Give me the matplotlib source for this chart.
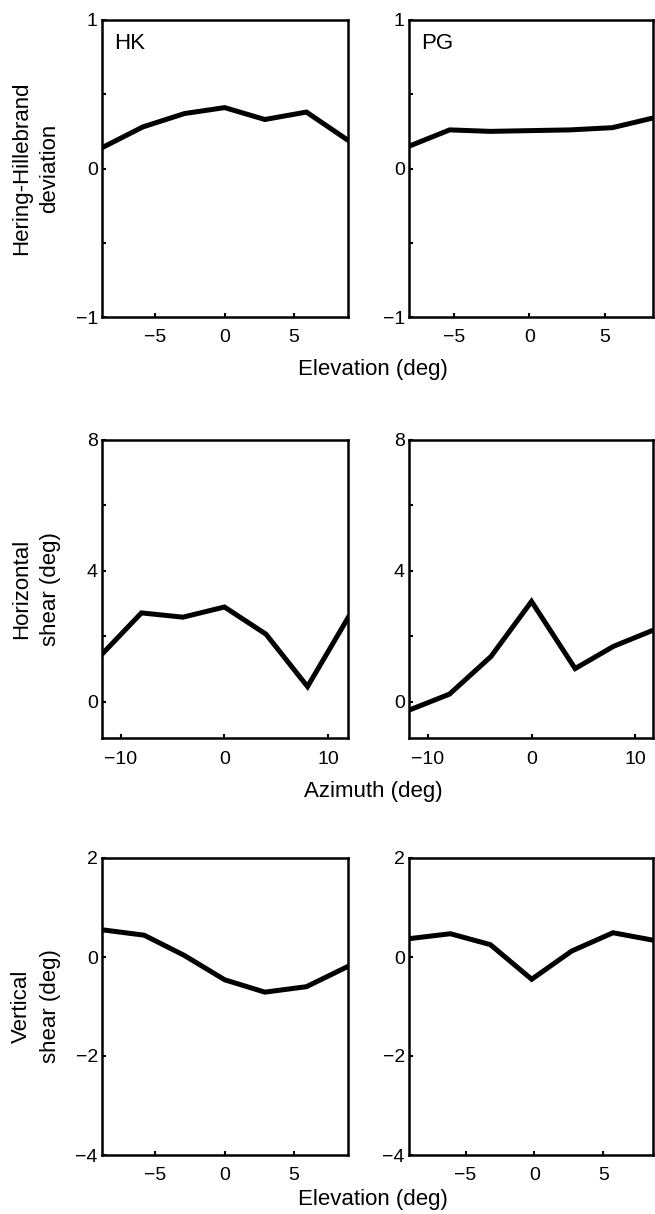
import matplotlib
matplotlib.use("Agg")
import matplotlib.pyplot as plt

plt.rcParams['font.family'] = ['Liberation Sans', 'DejaVu Sans']

# elevation / azimuth sample positions and values
hk_hh_x = [-8.85, -5.9, -2.9, 0, 2.9, 5.9, 8.9]
hk_hh = [0.14, 0.28, 0.37, 0.41, 0.33, 0.38, 0.19]
pg_hh_x = [-8.0, -5.3, -2.6, 0, 2.7, 5.5, 8.2]
pg_hh = [0.15, 0.26, 0.25, 0.255, 0.26, 0.275, 0.34]

hk_hs_x = [-11.8, -8, -4, 0, 4, 8, 11.9]
hk_hs = [1.46, 2.72, 2.59, 2.9, 2.07, 0.47, 2.57]
pg_hs_x = [-11.8, -7.9, -3.9, 0, 4.2, 7.9, 11.7]
pg_hs = [-0.25, 0.24, 1.39, 3.07, 1.02, 1.7, 2.19]

hk_vs_x = [-8.85, -5.8, -2.9, 0, 2.9, 5.9, 8.9]
hk_vs = [0.55, 0.44, 0.03, -0.46, -0.71, -0.6, -0.19]
pg_vs_x = [-9.1, -6.1, -3.2, -0.2, 2.7, 5.7, 8.6]
pg_vs = [0.37, 0.47, 0.25, -0.45, 0.12, 0.49, 0.34]

W, H = 655, 1214
fig = plt.figure(figsize=(W / 100, H / 100), dpi=100)

def px_axes(x0, x1, top, bottom):
    return fig.add_axes([x0 / W, 1 - bottom / H, (x1 - x0) / W, (bottom - top) / H])

def style(ax, xlim, ylim, xticks, yticks, yminor=None):
    ax.set_xlim(*xlim)
    ax.set_ylim(*ylim)
    ax.set_xticks(xticks)
    ax.set_yticks(yticks)
    if yminor:
        ax.set_yticks(yminor, minor=True)
    ax.tick_params(which='both', direction='in', length=3, width=1.5,
                   labelsize=14, top=False, right=False)
    ax.tick_params(axis='x', pad=9)
    ax.tick_params(axis='y', pad=3)
    for s in ax.spines.values():
        s.set_linewidth(1.8)

rows = [(20, 317), (440, 738), (858, 1155)]
cols = [(102, 348), (409, 653)]

# row 1: Hering-Hillebrand deviation
ax = px_axes(cols[0][0], cols[0][1], *rows[0])
ax.plot(hk_hh_x, hk_hh, color='black', lw=3.6, solid_joinstyle='miter')
style(ax, (-8.85, 8.9), (-1, 1), [-5, 0, 5], [-1, 0, 1], [-0.5, 0.5])
ax.text(0.05, 0.955, 'HK', transform=ax.transAxes, fontsize=16, va='top')

ax = px_axes(cols[1][0], cols[1][1], *rows[0])
ax.plot(pg_hh_x, pg_hh, color='black', lw=3.6, solid_joinstyle='miter')
style(ax, (-8.0, 8.2), (-1, 1), [-5, 0, 5], [-1, 0, 1], [-0.5, 0.5])
ax.text(0.05, 0.955, 'PG', transform=ax.transAxes, fontsize=16, va='top')

# row 2: horizontal shear
ax = px_axes(cols[0][0], cols[0][1], *rows[1])
ax.plot(hk_hs_x, hk_hs, color='black', lw=3.6, solid_joinstyle='miter')
style(ax, (-11.8, 11.9), (-1.1, 8), [-10, 0, 10], [0, 4, 8], [2, 6])

ax = px_axes(cols[1][0], cols[1][1], *rows[1])
ax.plot(pg_hs_x, pg_hs, color='black', lw=3.6, solid_joinstyle='miter')
style(ax, (-11.8, 11.7), (-1.1, 8), [-10, 0, 10], [0, 4, 8], [2, 6])

# row 3: vertical shear
ax = px_axes(cols[0][0], cols[0][1], *rows[2])
ax.plot(hk_vs_x, hk_vs, color='black', lw=3.6, solid_joinstyle='miter')
style(ax, (-8.85, 8.9), (-4, 2), [-5, 0, 5], [-4, -2, 0, 2])

ax = px_axes(cols[1][0], cols[1][1], *rows[2])
ax.plot(pg_vs_x, pg_vs, color='black', lw=3.6, solid_joinstyle='miter')
style(ax, (-9.1, 8.6), (-4, 2), [-5, 0, 5], [-4, -2, 0, 2])

# shared labels
ylabels = ['Hering-Hillebrand\ndeviation', 'Horizontal\nshear (deg)', 'Vertical\nshear (deg)']
for (top, bottom), lab in zip(rows, ylabels):
    fig.text(36 / W, 1 - (top + bottom) / 2 / H, lab, rotation=90, ha='center',
             va='center', fontsize=16, linespacing=1.45, multialignment='center')

xlabels = [('Elevation (deg)', 370), ('Azimuth (deg)', 792), ('Elevation (deg)', 1200)]
for lab, y in xlabels:
    fig.text(373 / W, 1 - y / H, lab, ha='center', va='center', fontsize=16)

fig.savefig('out.png', dpi=100)
